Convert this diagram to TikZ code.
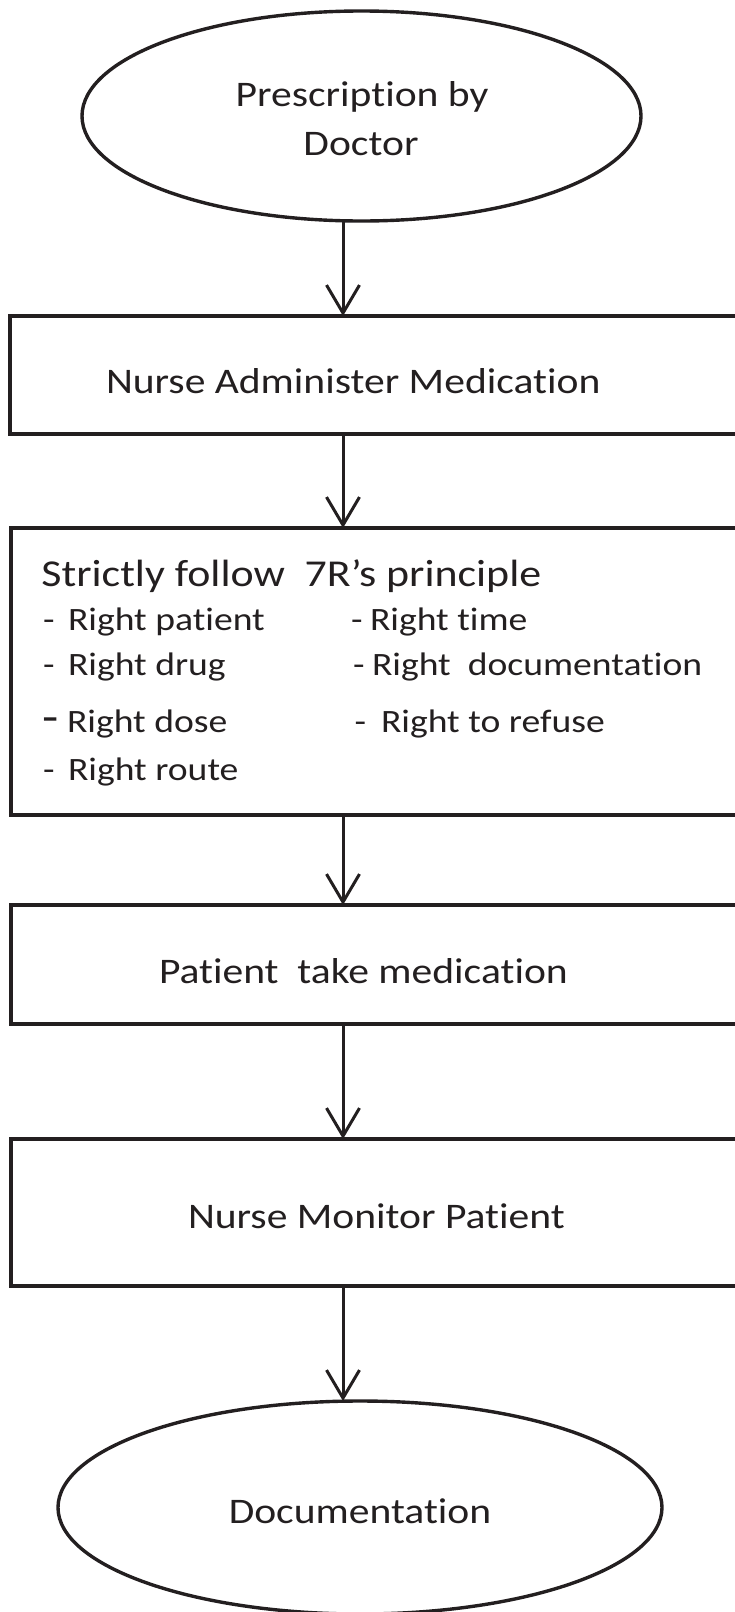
\documentclass[tikz,border=0pt]{standalone}
\usepackage{fontspec}
\setmainfont[FakeStretch=1.155,Ligatures=NoCommon,RawFeature={-liga;-calt}]{Carlito}
\usetikzlibrary{shapes.geometric,arrows.meta}
\definecolor{ink}{RGB}{35,31,32}
\begin{document}
\begin{tikzpicture}[x=1pt,y=-1pt,
  box/.style={draw=ink,line width=3.6pt,rectangle,inner sep=0pt,outer sep=0pt,
              minimum width=760pt,anchor=north west},
  oval/.style={draw=ink,line width=3.4pt,ellipse,inner sep=0pt,outer sep=0pt},
  lbl/.style={inner sep=0pt,outer sep=0pt,text=ink,font=\fontsize{36}{43}\selectfont},
  ttl/.style={lbl,font=\fontsize{38}{45}\selectfont,anchor=base west},
  itm/.style={lbl,font=\fontsize{32.6}{38}\selectfont,anchor=base west},
  bigdash/.style={lbl,font=\fontsize{46}{46}\selectfont,anchor=base west},
  flow/.style={draw=ink,line width=3pt,-{Straight Barb[length=28pt,width=33pt]}}]

\useasboundingbox (0,0) rectangle (735,1612);
\clip (0,0) rectangle (735,1612);

% vertical axis the connectors run along
\coordinate (axis) at (343,0);

% start oval
\node[oval,minimum width=559pt,minimum height=210pt] (start) at (361.5,116) {};
\node[lbl,anchor=base] (startA) at (362,106) {Prescription by};
\node[lbl,anchor=base] (startB) at (361,155) {Doctor};

% administer
\node[box,minimum height=118pt] (give) at (10,316) {};
\node[lbl,anchor=base west] (giveT) at (106,393) {Nurse Administer Medication};

% the 7R's
\node[box,minimum height=287pt] (rules) at (11,528) {};
\node[ttl] (rulesT) at (41.5,586) {Strictly follow\ \ 7R’s principle};
\node[itm] (dA) at (43,630) {-};
\node[itm] (rA) at (68,630) {Right patient};
\node[itm] (dB) at (43,675) {-};
\node[itm] (rB) at (68,675) {Right drug};
\node[bigdash] (dC) at (42,732) {-};
\node[itm] (rC) at (67,732) {Right dose};
\node[itm] (dD) at (43,780) {-};
\node[itm] (rD) at (68,780) {Right route};
\node[itm] (dE) at (351,630) {-};
\node[itm] (rE) at (370,630) {Right time};
\node[itm] (dF) at (353,675) {-};
\node[itm] (rF) at (372,675) {Right\ \ documentation};
\node[itm] (dG) at (354.5,732) {-};
\node[itm] (rG) at (381,732) {Right to refuse};

% patient takes
\node[box,minimum height=119pt] (take) at (11,905) {};
\node[lbl,anchor=base west] (takeT) at (159,983) {Patient\ \ take medication};

% monitoring
\node[box,minimum height=147pt] (watch) at (11,1139) {};
\node[lbl,anchor=base west] (watchT) at (188,1228) {Nurse Monitor Patient};

% end oval
\node[oval,minimum width=604pt,minimum height=213pt] (finish) at (360,1507.5) {};
\node[lbl,anchor=base] (finishT) at (360,1523) {Documentation};

% connectors
\draw[flow] (start.south -| axis) -- (give.north -| axis);
\draw[flow] (give.south -| axis) -- (rules.north -| axis);
\draw[flow] (rules.south -| axis) -- (take.north -| axis);
\draw[flow] (take.south -| axis) -- (watch.north -| axis);
\draw[flow] (watch.south -| axis) -- (finish.north -| axis);
\end{tikzpicture}
\end{document}
